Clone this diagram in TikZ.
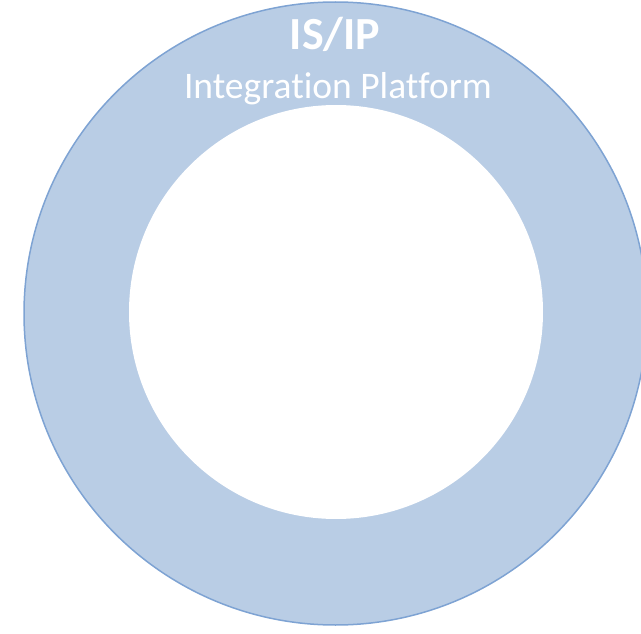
\documentclass[tikz,border=0pt]{standalone}
\usepackage{fontspec}
\setmainfont[Ligatures={NoCommon}]{Carlito}
\definecolor{ringfill}{HTML}{B9CDE5}
\definecolor{ringline}{HTML}{7EA3D3}
\begin{document}
\begin{tikzpicture}[x=1pt,y=-1pt,
  ring/.style={circle,fill=ringfill,draw=ringline,line width=1.5pt,inner sep=0pt},
  hole/.style={circle,fill=white,inner sep=0pt},
  title/.style={text=white,font=\fontsize{46}{50}\selectfont\bfseries,inner sep=0pt,anchor=base},
  subtitle/.style={text=white,font=\fontsize{37.5}{42}\selectfont,inner sep=0pt,anchor=base}]
\useasboundingbox (0,0) rectangle (641,634);
\clip (0,0) rectangle (641,634);
\node[ring,minimum size=623pt] (outer) at (335.5,313.5) {};
\node[hole,minimum size=414pt] (inner) at (336,312) {};
\node[title] (t1) at (335,50) {IS/IP};
\node[subtitle] (t2) at (338,99) {Integrat\kern0pt ion Platform};
\end{tikzpicture}
\end{document}
